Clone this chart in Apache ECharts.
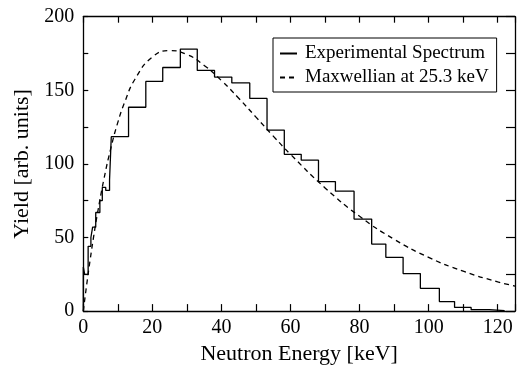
<!DOCTYPE html>
<html>
<head>
<meta charset="utf-8">
<script src="https://cdn.jsdelivr.net/npm/echarts@6/dist/echarts.min.js"></script>
<style>
  html, body { margin: 0; padding: 0; background: #fff; }
  #chart { width: 518px; height: 370px; }
</style>
</head>
<body>
<div id="chart"></div>
<script>
// histogram bin edges (keV) and yields
const binEdges = [0, 0.4, 1.4, 2.2, 2.7, 3.6, 4.8, 5.5, 6.5, 7.6, 8.1, 13.1, 18.1, 23.0, 28.1, 33.0,
    38.0, 43.0, 48.2, 53.2, 58.2, 63.1, 68.1, 73.0, 78.4, 83.5, 87.6, 92.6, 97.6, 103.1, 107.5,
    112.3, 117.5, 122];
const binYield = [30, 25, 44, 50, 57, 67, 75, 84, 82, 89, 118.5, 138.5, 156, 165.5, 178, 163.5,
    159, 155, 144.5, 123, 106.5, 102.5, 88, 81.5, 62.5, 45.5, 36.5, 25.5, 15.5, 6.5, 2.5, 1, 0.3];

// dashed Maxwellian curve, sampled points
const maxE = [0, 1, 2, 3, 4, 6, 8, 10, 12, 15, 20, 25, 30, 35, 40, 45, 50, 55, 60, 70, 80, 90, 100, 110, 120, 125];
const maxY = [0, 18.3, 35.1, 50.7, 65, 90, 110.9, 128.2, 142, 157.7, 172.6, 177, 174.3, 166.9, 156.6,
    144.6, 131.8, 118.9, 106.5, 83.7, 64.4, 48.8, 36.5, 27.1, 19.9, 17];

const histData = [[0, 0]];
binYield.forEach((v, i) => histData.push([binEdges[i], v]));
histData.push([binEdges[binEdges.length - 1], binYield[binYield.length - 1]]);

const font = 'Liberation Serif';
// onZero off, otherwise the top/right frame axes collapse onto the origin
const axisLine = { show: true, onZero: false, lineStyle: { color: '#000', width: 1.3 } };
const tick = len => ({ show: true, inside: true, length: len, lineStyle: { color: '#000', width: 1.2 } });

const chart = echarts.init(document.getElementById('chart'));
chart.setOption({
    animation: false,
    grid: { left: 83.3, top: 16.7, right: -3, bottom: 56.7 },
    legend: {
        orient: 'vertical',
        left: 273, top: 38,
        padding: [6, 8, 5, 6],
        itemWidth: 17, itemHeight: 14, itemGap: 5,
        borderColor: '#000', borderWidth: 1,
        itemStyle: { opacity: 0 },
        textStyle: { fontFamily: font, fontSize: 19, color: '#000', padding: [0, 0, 0, 3] },
        data: ['Experimental Spectrum', 'Maxwellian at 25.3 keV']
    },
    xAxis: [
        {
            type: 'value', min: 0, max: 125, interval: 10,
            name: 'Neutron Energy [keV]', nameLocation: 'middle', nameGap: 31,
            nameTextStyle: { fontFamily: font, fontSize: 22, color: '#000' },
            axisLine: axisLine,
            axisTick: tick(7),
            axisLabel: {
                fontFamily: font, fontSize: 20, color: '#000', margin: 7,
                formatter: v => (v % 20 === 0 ? v : '')
            },
            splitLine: { show: false }
        },
        {
            type: 'value', min: 0, max: 125, interval: 10, position: 'top',
            axisLine: axisLine,
            axisTick: tick(6),
            axisLabel: { show: false },
            splitLine: { show: false }
        }
    ],
    yAxis: [
        {
            type: 'value', min: 0, max: 200, interval: 25,
            name: 'Yield [arb. units]', nameLocation: 'middle', nameGap: 48,
            nameTextStyle: { fontFamily: font, fontSize: 22, color: '#000' },
            axisLine: axisLine,
            axisTick: tick(5),
            axisLabel: {
                fontFamily: font, fontSize: 20, color: '#000', margin: 9,
                formatter: v => (v % 50 === 0 ? v : '')
            },
            splitLine: { show: false }
        },
        {
            type: 'value', min: 0, max: 200, interval: 25, position: 'right',
            axisLine: axisLine,
            axisTick: tick(9),
            axisLabel: { show: false },
            splitLine: { show: false }
        }
    ],
    series: [
        {
            name: 'Experimental Spectrum',
            type: 'line', step: 'end', symbol: 'none',
            lineStyle: { color: '#000', width: 1.3 },
            itemStyle: { color: '#000' },
            data: histData
        },
        {
            name: 'Maxwellian at 25.3 keV',
            type: 'line', smooth: true, symbol: 'none',
            lineStyle: { color: '#000', width: 1.3, type: [5, 4] },
            itemStyle: { color: '#000' },
            data: maxE.map((e, i) => [e, maxY[i]])
        }
    ]
});
</script>
</body>
</html>
